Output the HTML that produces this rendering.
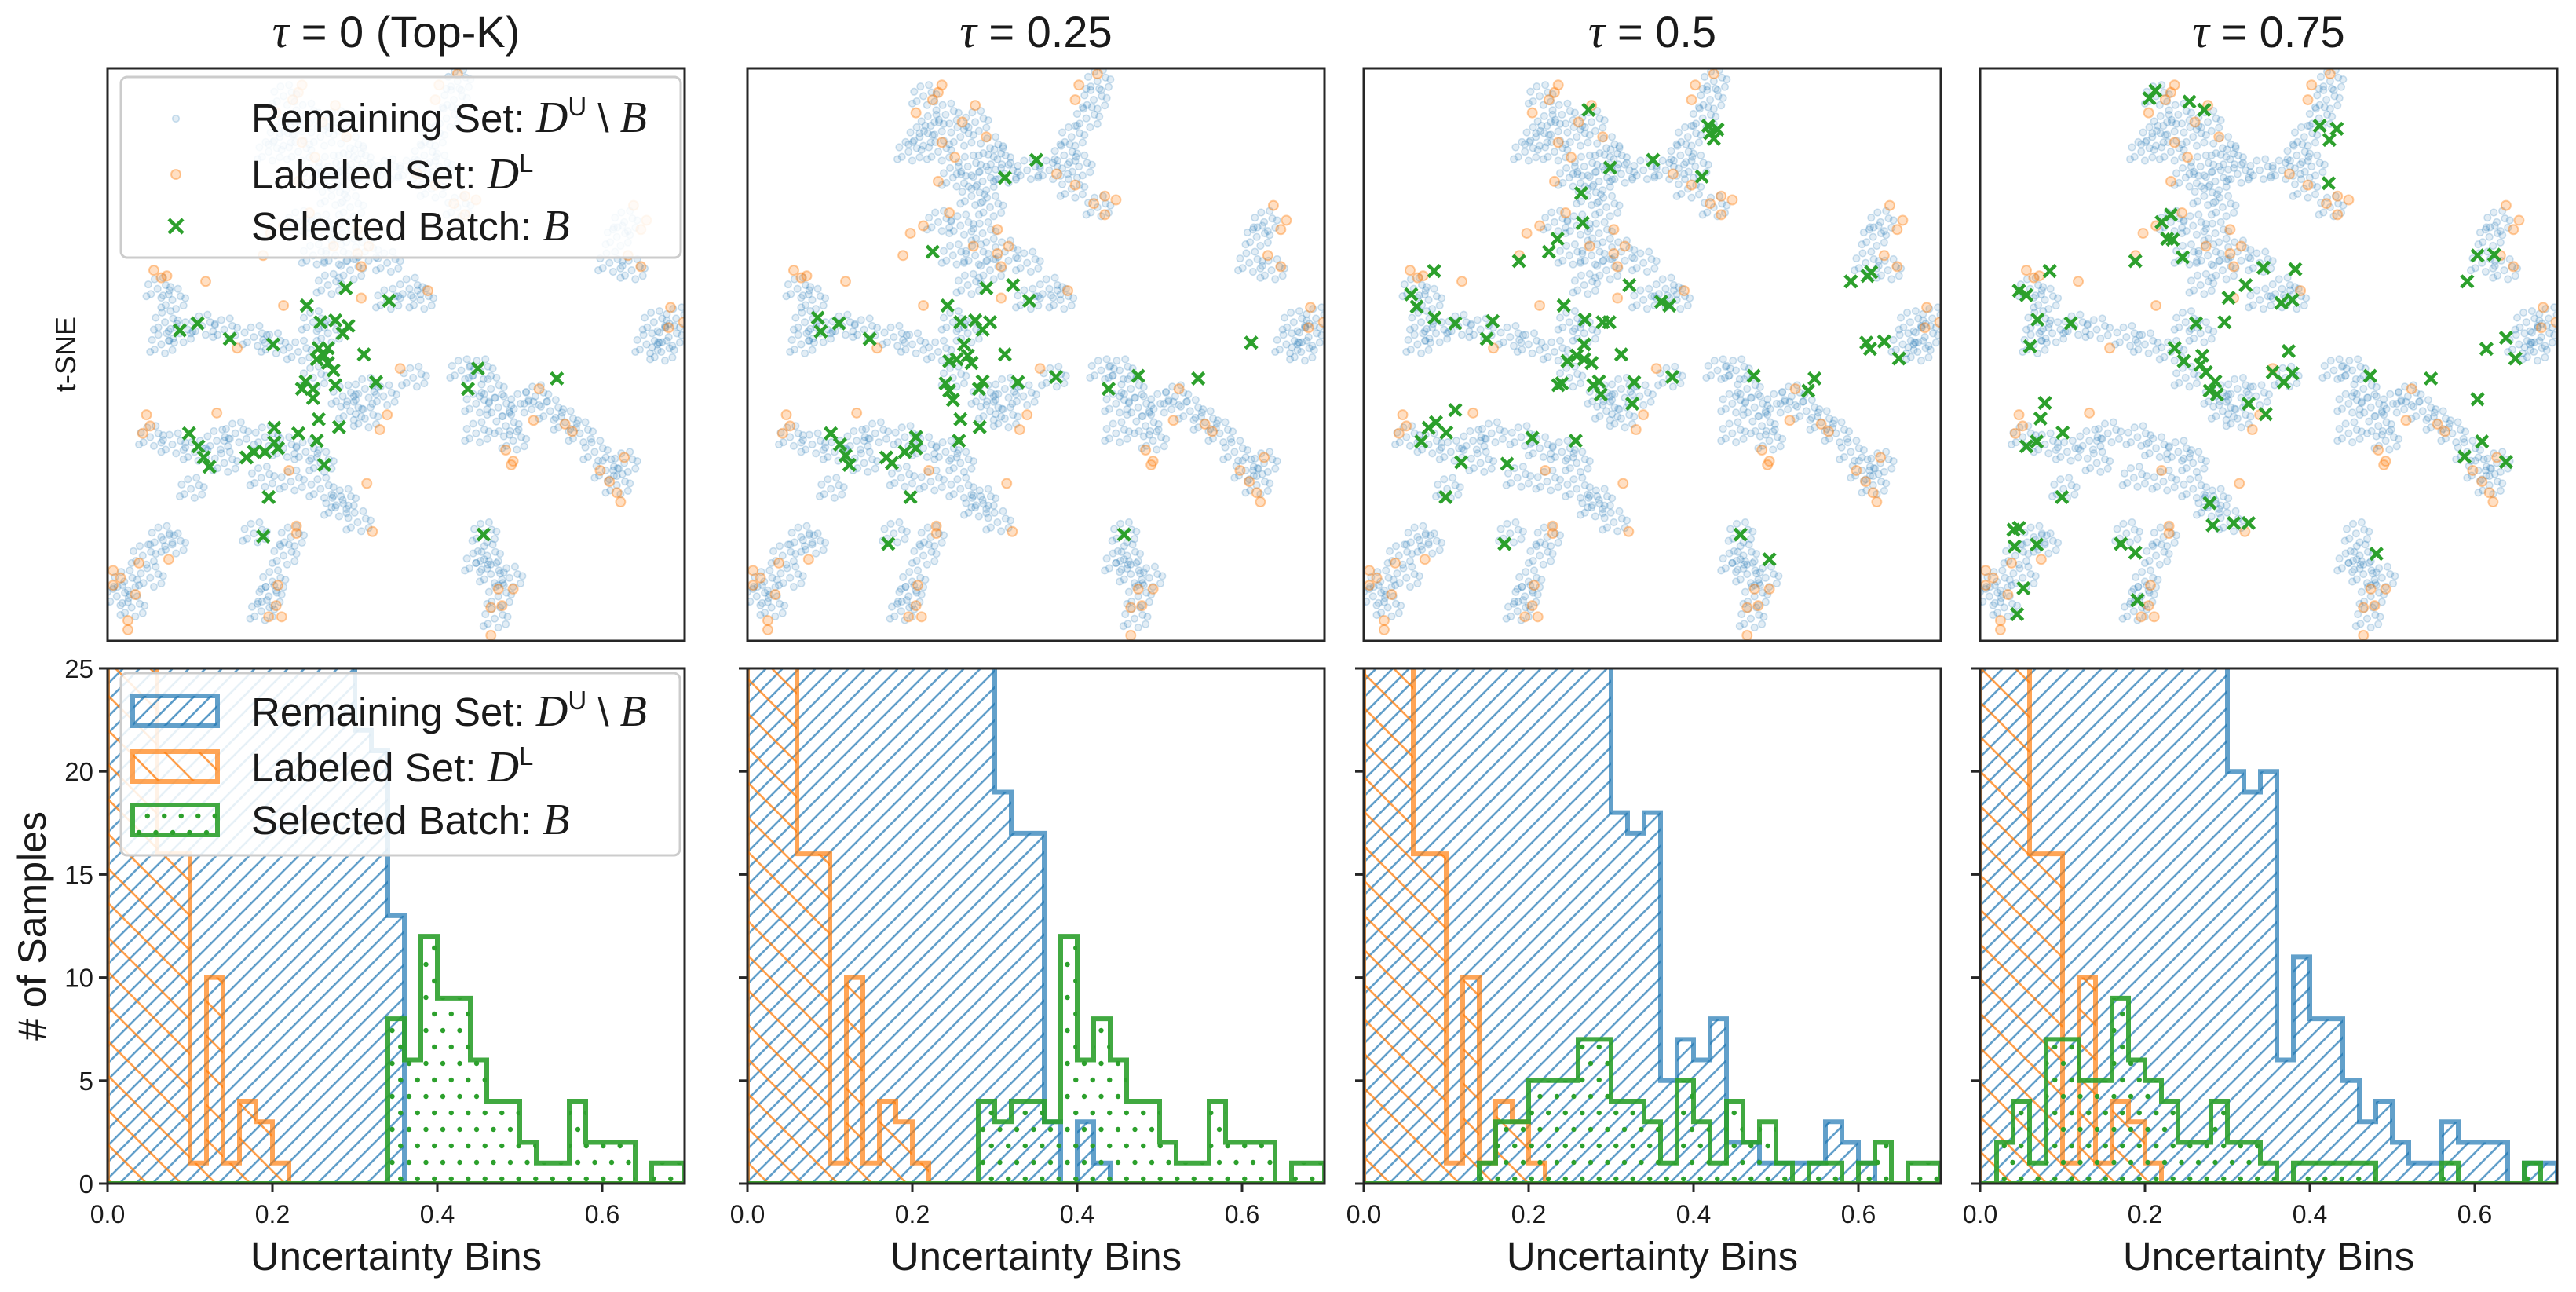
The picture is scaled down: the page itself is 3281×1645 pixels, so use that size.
<!DOCTYPE html>
<html><head><meta charset="utf-8"><title>t-SNE and uncertainty histograms</title>
<style>
html,body{margin:0;padding:0;background:#fff;}
svg{display:block;font-family:"Liberation Sans","DejaVu Sans",sans-serif;}
</style></head>
<body>
<svg id="fig" xmlns="http://www.w3.org/2000/svg" width="3281" height="1645" viewBox="0 0 3281 1645">
<defs>
<pattern id="hatchBlue" patternUnits="userSpaceOnUse" width="21" height="21">
<path d="M-2,2 L2,-2 M0,21 L21,0 M19,23 L23,19" stroke="#1f77b4" stroke-opacity="0.7" stroke-width="2.6"/>
</pattern>
<pattern id="hatchOrange" patternUnits="userSpaceOnUse" width="44" height="44">
<path d="M-4,-4 L48,48 M-4,40 L4,48 M40,-4 L48,4" stroke="#ff7f0e" stroke-opacity="0.75" stroke-width="2.6"/>
</pattern>
<pattern id="dotsGreen" patternUnits="userSpaceOnUse" width="21.5" height="42">
<circle cx="5" cy="10" r="3.2" fill="#2ca02c"/>
<circle cx="15.75" cy="31" r="3.2" fill="#2ca02c"/>
</pattern>
</defs>
<g id="root"></g>
</svg>
<script>
// ---------- Histogram data (counts per 0.02 bin, 35 bins from 0 to 0.7; values >25 are clipped) ----------
const binEdgesStart = 0, binWidth = 0.02;
const tauValues = ["0 (Top-K)", "0.25", "0.5", "0.75"];
const xTicks = [0.0, 0.2, 0.4, 0.6];
const xTickLabels = ["0.0", "0.2", "0.4", "0.6"];
const yTicks = [0, 5, 10, 15, 20, 25];
const yTickLabels = ["0", "5", "10", "15", "20", "25"];

const labeledCounts = [30,30,30,16,16,1,10,1,4,3,1,0,0,0,0,0,0,0,0,0,0,0,0,0,0,0,0,0,0,0,0,0,0,0,0];

const remainingCounts0 = [30,30,30,30,30,30,30,30,30,30,30,30,30,30,30,22,21,13,0,0,0,0,0,0,0,0,0,0,0,0,0,0,0,0,0];
const remainingCounts1 = [30,30,30,30,30,30,30,30,30,30,30,30,30,30,30,19,17,17,3,0,3,1,0,0,0,0,0,0,0,0,0,0,0,0,0];
const remainingCounts2 = [30,30,30,30,30,30,30,30,30,30,30,30,30,30,30,18,17,18,5,7,6,8,2,2,1,1,1,1,3,2,1,0,0,0,0];
const remainingCounts3 = [30,30,30,30,30,30,30,30,30,30,30,30,30,30,30,20,19,20,6,11,8,8,5,3,4,2,1,1,3,2,2,2,0,1,1];

const selectedCounts0 = [0,0,0,0,0,0,0,0,0,0,0,0,0,0,0,0,0,8,6,12,9,9,6,4,4,2,1,1,4,2,2,2,0,1,1];
const selectedCounts1 = [0,0,0,0,0,0,0,0,0,0,0,0,0,0,4,3,4,4,3,12,6,8,6,4,4,2,1,1,4,2,2,2,0,1,1];
const selectedCounts2 = [0,0,0,0,0,0,0,1,3,3,5,5,5,7,7,4,4,3,1,5,3,1,4,2,3,1,0,1,1,0,1,2,0,1,1];
const selectedCounts3 = [0,2,4,1,7,7,5,5,9,6,5,4,2,2,4,2,2,1,0,1,1,1,1,1,0,0,0,0,1,0,0,0,0,1,0];

const remainingSeries = [remainingCounts0, remainingCounts1, remainingCounts2, remainingCounts3];
const selectedSeries = [selectedCounts0, selectedCounts1, selectedCounts2, selectedCounts3];

// ---------- t-SNE data (embedding coords, 0..1568 each axis, y downward) ----------
const remainingClusterCenters = [
[480,90],[540,140],[470,200],[440,240],[520,240],[580,200],[620,160],[660,230],[600,280],[560,310],[640,320],[700,300],[680,260],[500,170],[610,360],[660,390],
[950,50],[940,100],[920,150],[880,200],[860,250],[900,280],[820,290],[760,290],[950,390],[880,340],
[520,430],[580,440],[640,460],[560,520],[620,520],[700,510],[760,540],[660,560],[600,600],[820,610],[850,640],[760,640],
[140,610],[180,640],[160,700],[200,730],[150,760],[260,710],[320,720],[400,740],[450,760],
[560,700],[600,730],[520,780],[560,850],[640,900],[700,880],[750,900],[700,960],[660,940],[830,850],
[960,830],[1010,830],[1040,880],[1000,920],[1060,930],[1080,980],[1120,920],[1160,900],[1200,940],[1240,970],[1280,1000],[1100,1020],[1000,1000],
[1400,430],[1380,470],[1360,540],[1420,560],
[1480,700],[1520,740],[1460,760],[1500,780],[1540,690],
[1320,1050],[1350,1100],[1380,1140],[1400,1080],
[120,1010],[180,1030],[240,1050],[300,1020],[350,1000],[430,1010],[480,1040],[540,1050],[580,1080],[420,1120],[500,1130],[580,1150],[640,1180],[320,1080],[230,1150],[680,1240],[620,1200],
[50,1400],[100,1330],[150,1280],[30,1440],[70,1470],[120,1390],[180,1300],
[440,1440],[450,1400],[480,1330],[420,1480],[400,1270],[500,1280],
[1040,1380],[1060,1440],[1030,1330],[1090,1390],[1050,1500],[1000,1350],[1020,1270]
];
const labeledPoints = [
[530,60],[505,100],[520,80],[460,135],[585,160],[650,200],[530,215],[565,255],[520,320],[620,115],[900,60],[890,100],[950,30],[890,330],[970,360],[940,380],[1000,370],[970,410],[840,300],
[550,405],[480,440],[445,460],[425,520],[615,495],[680,450],[680,515],[710,495],[690,550],[870,615],[130,560],[150,580],[165,575],[270,590],[480,655],[690,635],[355,770],[795,825],
[1425,385],[1460,425],[1445,450],[1410,520],[1445,550],[1525,660],[1520,715],[1560,700],[110,950],[120,980],[100,1000],[300,945],[760,950],[740,990],[1170,880],[1155,965],[1240,975],[1260,995],
[1080,1045],[1100,1075],[1095,1085],[1400,1065],[1335,1100],[1360,1130],[1380,1160],[1390,1185],[495,1100],[705,1135],[720,1265],[515,1250],[515,1270],[170,1340],[90,1350],[20,1370],[40,1390],[20,1410],[80,1435],[60,1505],[60,1530],
[465,1410],[460,1465],[440,1495],[475,1495],[1060,1420],[1100,1420],[1040,1470],[1070,1465],[1040,1545]
];
const selectedPoints0 = [
[648,608],[765,642],[543,655],[200,722],[248,703],[335,745],[452,760],[580,700],[620,695],[655,710],[640,730],[575,770],[590,790],[600,810],[570,800],[615,830],[697,787],[620,870],[540,860],[530,880],[560,905],[730,862],[1005,825],[978,880],[1218,852],[575,962],[630,983],[520,1000],[570,1020],[590,1085],[225,1000],[250,1035],[265,1065],[280,1090],[380,1065],[400,1050],[430,1050],[455,1025],[455,985],[465,1040],[440,1172],[425,1278],[1020,1273],[560,880],[600,770]
];
const selectedPoints1 = [
[785,262],[700,310],[505,510],[650,608],[722,600],[766,642],[545,655],[195,688],[252,703],[203,725],[335,745],[580,700],[620,695],[660,700],[640,720],[590,760],[600,790],[570,800],[610,810],[550,805],[700,787],[640,860],[630,880],[540,865],[550,885],[560,910],[735,862],[838,848],[980,880],[1060,845],[1222,852],[1365,755],[580,962],[632,983],[576,1020],[230,1000],[255,1030],[270,1060],[280,1085],[380,1065],[395,1080],[430,1050],[460,1010],[460,1040],[445,1172],[385,1298],[1022,1273]
];
const selectedPoints2 = [
[612,127],[935,170],[960,180],[950,205],[940,190],[670,283],[786,262],[918,307],[592,352],[596,432],[528,475],[505,510],[424,535],[195,562],[133,625],[148,658],[196,688],[252,703],[353,697],[337,745],[545,655],[602,693],[650,700],[668,700],[722,600],[808,645],[830,655],[1320,590],[1365,575],[1375,565],[1362,755],[1372,772],[1410,752],[1450,798],[600,760],[580,790],[600,800],[620,810],[555,805],[700,787],[540,865],[530,870],[625,870],[640,860],[645,895],[735,862],[730,920],[838,848],[1058,845],[1222,852],[1205,885],[252,937],[200,970],[180,985],[228,998],[160,1022],[268,1078],[392,1082],[460,1012],[577,1020],[226,1172],[385,1298],[1022,1273],[1100,1340]
];
const selectedPoints3 = [
[478,75],[462,96],[570,105],[610,127],[922,170],[968,178],[948,208],[946,325],[520,410],[495,430],[510,475],[525,477],[552,525],[424,535],[193,562],[110,615],[130,627],[160,693],[250,703],[140,765],[676,634],[722,600],[770,553],[856,557],[818,648],[848,640],[588,703],[665,700],[530,770],[555,805],[605,790],[600,815],[615,835],[640,860],[625,885],[645,895],[838,778],[795,835],[848,838],[825,862],[730,920],[776,948],[1058,845],[1222,852],[1348,520],[1393,518],[1320,590],[1425,742],[1372,772],[1450,798],[1348,908],[1360,1022],[1313,1063],[1425,1077],[180,918],[168,960],[130,1035],[158,1022],[228,998],[226,1172],[625,1188],[633,1248],[690,1242],[730,1242],[95,1260],[110,1255],[98,1305],[158,1300],[385,1298],[424,1322],[1075,1325],[122,1418],[105,1488],[430,1450]
];
const selectedSeriesTsne = [selectedPoints0, selectedPoints1, selectedPoints2, selectedPoints3];
// marker glyph: fixed cluster footprint used to draw each remaining-set cluster
const clusterFootprint = [[0,0],[22,-10],[-18,14],[10,24],[-25,-12],[30,15],[-8,-26],[15,-30],[-30,20],[35,-5]];

// ---------- Layout ----------
const NS = "http://www.w3.org/2000/svg";
const root = document.getElementById('root');
const panelLefts = [137, 952, 1737, 2522];
const panelW = 735;
const topY0 = 87, topH = 729;
const botY0 = 851, botH = 656;
const blue = "#1f77b4", orange = "#ff7f0e", green = "#2ca02c";

function mk(tag, attrs, parent) {
  const e = document.createElementNS(NS, tag);
  for (const k in attrs) e.setAttribute(k, attrs[k]);
  (parent || root).appendChild(e);
  return e;
}
function tsneX(L, v) { return L + (v - 5) / 1558 * panelW; }
function tsneY(v) { return topY0 + (v - 15) / 1545 * topH; }
function histX(L, v) { return L + v / 0.7 * panelW; }
function histY(c) { return botY0 + botH - c / 25 * botH; }

function stepPath(L, counts) {
  let d = "M" + histX(L, 0) + "," + histY(0);
  for (let i = 0; i < counts.length; i++) {
    const x0 = histX(L, binEdgesStart + i * binWidth), x1 = histX(L, binEdgesStart + (i + 1) * binWidth);
    const y = histY(counts[i]);
    d += " L" + x0 + "," + y + " L" + x1 + "," + y;
  }
  d += " L" + histX(L, binEdgesStart + counts.length * binWidth) + "," + histY(0) + " Z";
  return d;
}

function legendMathText(g, x, y, label, parts) {
  const t = mk('text', {x: x, y: y, 'font-size': 51, fill: '#1a1a1a'}, g);
  t.appendChild(document.createTextNode(label));
  parts.forEach(p => {
    const s = mk('tspan', p.attrs || {}, t);
    s.textContent = p.text;
  });
  return t;
}
function legendEntries(g, x, ys) {
  const serif = {'font-family': '"Liberation Serif", serif', 'font-style': 'italic', 'font-size': 56};
  const a = legendMathText(g, x, ys[0], "Remaining Set: ", [
    {text: "D", attrs: serif},
    {text: "U", attrs: {'font-size': 33, dy: -21}},
    {text: " \\ ", attrs: {dy: 21}},
    {text: "B", attrs: serif}]);
  
  
  const b = legendMathText(g, x, ys[1], "Labeled Set: ", [
    {text: "D", attrs: serif},
    {text: "L", attrs: {'font-size': 33, dy: -21}}]);
  
  
  const c = legendMathText(g, x, ys[2], "Selected Batch: ", [
    {text: "B", attrs: serif}]);
  
  
}

function drawX(g, cx, cy, s) {
  mk('path', {d: `M${cx-s},${cy-s} L${cx+s},${cy+s} M${cx-s},${cy+s} L${cx+s},${cy-s}`, stroke: green, 'stroke-width': 4.5, fill: 'none'}, g);
}

for (let p = 0; p < 4; p++) {
  const L = panelLefts[p];

  // title
  const title = mk('text', {x: L + panelW / 2, y: 60, 'font-size': 56, 'text-anchor': 'middle', fill: '#1a1a1a'});
  const tt = mk('tspan', {'font-family': '"Liberation Serif", serif', 'font-style': 'italic', 'font-size': 60}, title);
  tt.textContent = "\u03C4";
  const tv = mk('tspan', {}, title);
  tv.textContent = " = " + tauValues[p];
  
  

  // ---- t-SNE scatter ----
  const gs = mk('g', {});
  
  
  const cpId = 'clipTop' + p;
  const cp = mk('clipPath', {id: cpId}, gs);
  mk('rect', {x: L, y: topY0, width: panelW, height: topH}, cp);
  const inner = mk('g', {'clip-path': 'url(#' + cpId + ')'}, gs);
  const gb = mk('g', {}, inner);
  
  
  remainingClusterCenters.forEach(c => {
    clusterFootprint.forEach(o => {
      mk('circle', {cx: tsneX(L, c[0] + o[0]), cy: tsneY(c[1] + o[1]), r: 4.3, fill: blue, 'fill-opacity': 0.13, stroke: blue, 'stroke-opacity': 0.22, 'stroke-width': 1.6}, gb);
    });
  });
  const go = mk('g', {}, inner);
  
  
  labeledPoints.forEach(pt => {
    mk('circle', {cx: tsneX(L, pt[0]), cy: tsneY(pt[1]), r: 6, fill: orange, 'fill-opacity': 0.25, stroke: orange, 'stroke-opacity': 0.4, 'stroke-width': 2}, go);
  });
  const gg = mk('g', {}, inner);
  
  
  selectedSeriesTsne[p].forEach(pt => drawX(gg, tsneX(L, pt[0]), tsneY(pt[1]), 7.5));
  const fr = mk('rect', {x: L, y: topY0, width: panelW, height: topH, fill: 'none', stroke: '#262626', 'stroke-width': 3}, gs);
  
  

  // ---- histogram ----
  const gh = mk('g', {});
  
  
  const chId = 'clipBot' + p;
  const ch = mk('clipPath', {id: chId}, gh);
  mk('rect', {x: L, y: botY0, width: panelW, height: botH}, ch);
  const hi = mk('g', {'clip-path': 'url(#' + chId + ')'}, gh);
  const hb = mk('path', {d: stepPath(L, remainingSeries[p]), fill: 'url(#hatchBlue)', stroke: blue, 'stroke-opacity': 0.7, 'stroke-width': 6, 'stroke-linejoin': 'miter'}, hi);
  
  
  const ho = mk('path', {d: stepPath(L, labeledCounts), fill: 'url(#hatchOrange)', stroke: orange, 'stroke-opacity': 0.7, 'stroke-width': 6}, hi);
  
  
  const hg = mk('path', {d: stepPath(L, selectedSeries[p]), fill: 'url(#dotsGreen)', stroke: green, 'stroke-opacity': 0.9, 'stroke-width': 6}, hi);
  
  
  const hf = mk('rect', {x: L, y: botY0, width: panelW, height: botH, fill: 'none', stroke: '#262626', 'stroke-width': 3}, gh);
  
  

  // x ticks
  xTicks.forEach((v, i) => {
    const x = histX(L, v);
    const tk = mk('line', {x1: x, y1: botY0 + botH, x2: x, y2: botY0 + botH + 11, stroke: '#262626', 'stroke-width': 3}, gh);
    
    
    const tl = mk('text', {x: x, y: 1557, 'font-size': 32, 'text-anchor': 'middle', fill: '#1a1a1a'}, gh);
    tl.textContent = xTickLabels[i];
    
    
  });
  // y ticks
  yTicks.forEach((v, i) => {
    const y = histY(v);
    const tk = mk('line', {x1: L - 11, y1: y, x2: L, y2: y, stroke: '#262626', 'stroke-width': 3}, gh);
    
    
    if (p === 0) {
      const tl = mk('text', {x: L - 18, y: y + 12, 'font-size': 33, 'text-anchor': 'end', fill: '#1a1a1a'}, gh);
      tl.textContent = yTickLabels[i];
      
      
    }
  });
  const xl = mk('text', {x: L + panelW / 2, y: 1617, 'font-size': 51, 'text-anchor': 'middle', fill: '#1a1a1a'}, gh);
  xl.textContent = "Uncertainty Bins";
  
  
}

// ---- y-axis titles ----
const tsneLbl = mk('text', {x: 0, y: 0, 'font-size': 36, 'text-anchor': 'middle', fill: '#1a1a1a', transform: 'translate(96,451) rotate(-90)'});
tsneLbl.textContent = "t-SNE";


const ylbl = mk('text', {x: 0, y: 0, 'font-size': 50, 'text-anchor': 'middle', fill: '#1a1a1a', transform: 'translate(58,1179) rotate(-90)'});
ylbl.textContent = "# of Samples";



// ---- legends ----
const lg1 = mk('g', {});


mk('rect', {x: 154, y: 98, width: 713, height: 230, rx: 8, fill: '#ffffff', 'fill-opacity': 0.85, stroke: '#cccccc', 'stroke-width': 3}, lg1);
mk('circle', {cx: 224, cy: 151, r: 4.3, fill: blue, 'fill-opacity': 0.13, stroke: blue, 'stroke-opacity': 0.22, 'stroke-width': 1.6}, lg1);
mk('circle', {cx: 224, cy: 222, r: 6, fill: orange, 'fill-opacity': 0.25, stroke: orange, 'stroke-opacity': 0.4, 'stroke-width': 2}, lg1);
drawX(lg1, 224, 288, 9);
legendEntries(lg1, 320, [168, 240, 306]);

const lg2 = mk('g', {});


mk('rect', {x: 154, y: 857, width: 712, height: 232, rx: 8, fill: '#ffffff', 'fill-opacity': 0.85, stroke: '#cccccc', 'stroke-width': 3}, lg2);
mk('rect', {x: 169, y: 886, width: 108, height: 38, fill: 'url(#hatchBlue)', stroke: blue, 'stroke-opacity': 0.7, 'stroke-width': 6}, lg2);
mk('rect', {x: 169, y: 957, width: 108, height: 38, fill: 'url(#hatchOrange)', stroke: orange, 'stroke-opacity': 0.7, 'stroke-width': 6}, lg2);
mk('rect', {x: 169, y: 1025, width: 108, height: 38, fill: 'url(#dotsGreen)', stroke: green, 'stroke-opacity': 0.9, 'stroke-width': 6}, lg2);
legendEntries(lg2, 320, [924, 995, 1062]);
</script>
</body></html>
